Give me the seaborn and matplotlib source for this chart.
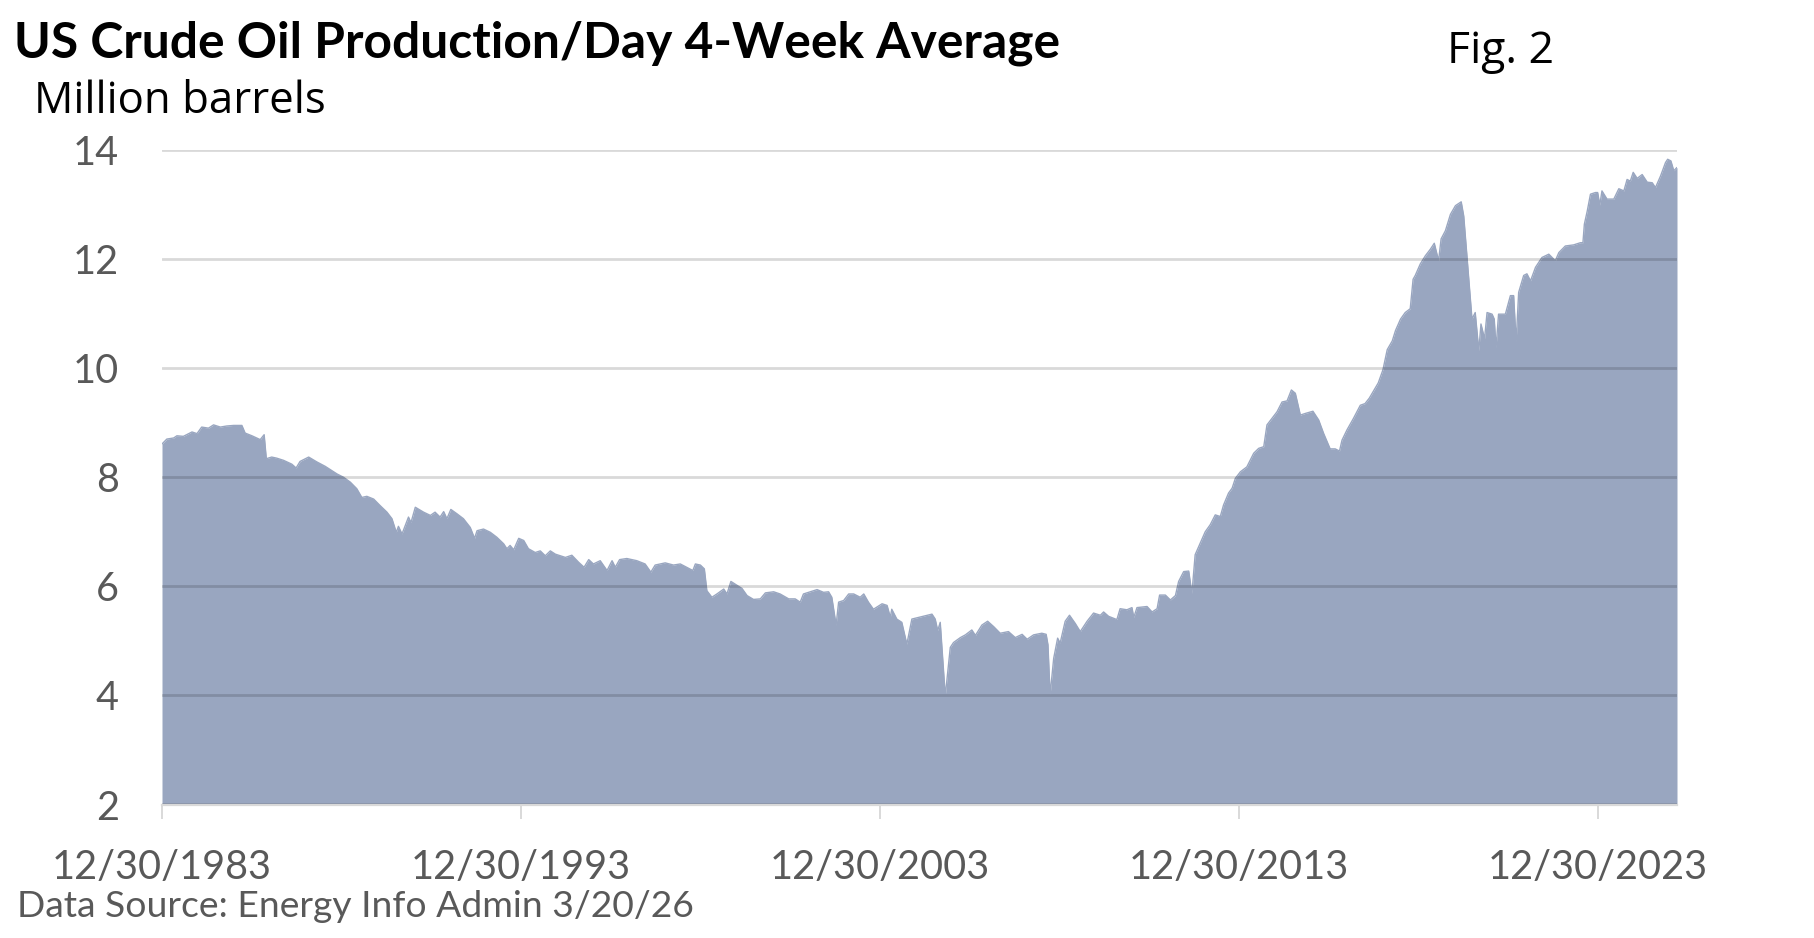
import matplotlib
matplotlib.use("Agg")
import matplotlib.pyplot as plt
import seaborn as sns
import pandas as pd

# ---------------- data ----------------
years = [
    1983.995, 1984.13, 1984.32, 1984.41, 1984.59, 1984.83, 1984.97, 1985.10, 1985.29, 1985.43,
    1985.62, 1985.80, 1985.99, 1986.22, 1986.31, 1986.50, 1986.73, 1986.84, 1986.90, 1987.05,
    1987.19, 1987.38, 1987.61, 1987.73, 1987.84, 1988.08, 1988.31, 1988.54, 1988.73, 1988.87,
    1989.05, 1989.24, 1989.42, 1989.56, 1989.70, 1989.89, 1990.07, 1990.26, 1990.40, 1990.52,
    1990.58, 1990.68, 1990.86, 1990.93, 1991.05, 1991.28, 1991.47, 1991.60, 1991.74, 1991.84,
    1991.93, 1992.04, 1992.21, 1992.39, 1992.58, 1992.70, 1992.77, 1992.95, 1993.14, 1993.32,
    1993.51, 1993.60, 1993.69, 1993.79, 1993.93, 1994.07, 1994.20, 1994.39, 1994.53, 1994.67,
    1994.81, 1994.95,
    1995.09, 1995.23, 1995.41, 1995.60, 1995.75, 1995.88, 1996.01, 1996.20, 1996.39, 1996.53,
    1996.62, 1996.74, 1996.94, 1997.22, 1997.45, 1997.61, 1997.73, 1998.01, 1998.24, 1998.43,
    1998.66, 1998.78, 1998.85, 1998.99, 1999.10, 1999.17, 1999.31, 1999.45, 1999.64, 1999.73,
    1999.84, 2000.01, 2000.15, 2000.29, 2000.47, 2000.66, 2000.80, 2001.03, 2001.21, 2001.45,
    2001.63, 2001.77, 2001.86, 2002.05, 2002.24, 2002.42, 2002.56, 2002.65, 2002.77, 2002.84,
    2002.98, 2003.12, 2003.26, 2003.44, 2003.54, 2003.67, 2003.81, 2004.05, 2004.19, 2004.28,
    2004.32, 2004.46, 2004.60, 2004.74, 2004.88, 2005.07, 2005.25, 2005.44, 2005.53, 2005.60,
    2005.67, 2005.72, 2005.81, 2005.95, 2006.04, 2006.23,
    2006.37, 2006.55, 2006.65, 2006.83, 2006.99, 2007.16, 2007.34, 2007.57, 2007.76, 2007.95,
    2008.09, 2008.27, 2008.50, 2008.62, 2008.67, 2008.73, 2008.83, 2008.94, 2009.01, 2009.15,
    2009.27, 2009.43, 2009.57, 2009.76, 2009.94, 2010.13, 2010.22, 2010.36, 2010.59, 2010.68,
    2010.87, 2011.01, 2011.06, 2011.15, 2011.43, 2011.57, 2011.71, 2011.78, 2011.94, 2012.08,
    2012.22, 2012.31, 2012.45, 2012.59, 2012.68, 2012.77, 2012.91, 2013.05, 2013.19, 2013.33,
    2013.47, 2013.56, 2013.70, 2013.80, 2013.89, 2014.03, 2014.21, 2014.40, 2014.54, 2014.68,
    2014.77, 2014.91, 2015.05, 2015.19, 2015.33, 2015.45, 2015.56, 2015.70, 2015.84, 2016.05,
    2016.21, 2016.35, 2016.53, 2016.67, 2016.79, 2016.86, 2017.00, 2017.18, 2017.37, 2017.50,
    2017.62, 2017.80, 2017.87, 2018.00, 2018.12, 2018.26,
    2018.35, 2018.49, 2018.62, 2018.76, 2018.84, 2018.90, 2019.04, 2019.18, 2019.32, 2019.43,
    2019.55, 2019.62, 2019.74, 2019.88, 2020.02, 2020.18, 2020.25, 2020.34, 2020.48, 2020.57,
    2020.67, 2020.73, 2020.83, 2020.90, 2021.04, 2021.10, 2021.15, 2021.22, 2021.41, 2021.55,
    2021.64, 2021.71, 2021.78, 2021.92, 2022.01, 2022.11, 2022.25, 2022.43, 2022.62, 2022.80,
    2022.90, 2023.08, 2023.31, 2023.50, 2023.57, 2023.61, 2023.69, 2023.78, 2023.92, 2023.98,
    2024.04, 2024.10, 2024.24, 2024.43, 2024.57, 2024.71, 2024.80, 2024.89, 2024.97, 2025.08,
    2025.22, 2025.36, 2025.50, 2025.59, 2025.73, 2025.87, 2025.93, 2026.02, 2026.10, 2026.19,
]

production = [
    8.61, 8.70, 8.72, 8.76, 8.75, 8.83, 8.80, 8.92, 8.90, 8.96,
    8.92, 8.94, 8.95, 8.95, 8.81, 8.76, 8.69, 8.78, 8.34, 8.37,
    8.35, 8.31, 8.24, 8.17, 8.29, 8.37, 8.28, 8.20, 8.12, 8.06,
    8.00, 7.91, 7.79, 7.63, 7.65, 7.60, 7.48, 7.36, 7.24, 6.99,
    7.10, 6.96, 7.27, 7.17, 7.45, 7.36, 7.30, 7.36, 7.27, 7.37,
    7.24, 7.41, 7.33, 7.24, 7.08, 6.88, 7.02, 7.05, 6.99, 6.90,
    6.78, 6.69, 6.75, 6.67, 6.88, 6.84, 6.69, 6.62, 6.65, 6.56,
    6.65, 6.59,
    6.56, 6.53, 6.57, 6.44, 6.35, 6.49, 6.41, 6.47, 6.29, 6.47,
    6.35, 6.49, 6.51, 6.47, 6.41, 6.26, 6.39, 6.43, 6.39, 6.41,
    6.33, 6.29, 6.41, 6.39, 6.32, 5.92, 5.80, 5.86, 5.95, 5.86,
    6.09, 6.02, 5.96, 5.83, 5.76, 5.77, 5.88, 5.90, 5.86, 5.77,
    5.77, 5.71, 5.86, 5.90, 5.94, 5.89, 5.90, 5.80, 5.29, 5.71,
    5.74, 5.86, 5.86, 5.80, 5.86, 5.71, 5.58, 5.68, 5.65, 5.43,
    5.58, 5.40, 5.34, 4.94, 5.40, 5.43, 5.46, 5.49, 5.40, 5.19,
    5.34, 4.85, 3.99, 4.88, 4.97, 5.06,
    5.11, 5.20, 5.10, 5.29, 5.36, 5.26, 5.14, 5.17, 5.06, 5.12,
    5.03, 5.11, 5.14, 5.12, 4.93, 4.01, 4.68, 5.05, 4.96, 5.36,
    5.47, 5.32, 5.17, 5.36, 5.51, 5.47, 5.53, 5.45, 5.39, 5.59,
    5.57, 5.61, 5.43, 5.61, 5.63, 5.53, 5.59, 5.84, 5.84, 5.75,
    5.83, 6.09, 6.27, 6.28, 5.87, 6.58, 6.79, 7.00, 7.13, 7.31,
    7.28, 7.49, 7.71, 7.80, 7.98, 8.10, 8.19, 8.44, 8.53, 8.56,
    8.96, 9.08, 9.20, 9.38, 9.40, 9.60, 9.54, 9.14, 9.17, 9.21,
    9.05, 8.80, 8.52, 8.52, 8.48, 8.68, 8.87, 9.08, 9.32, 9.35,
    9.45, 9.65, 9.73, 9.97, 10.34, 10.50,
    10.69, 10.90, 11.02, 11.09, 11.63, 11.70, 11.91, 12.06, 12.18, 12.29,
    11.97, 12.37, 12.52, 12.82, 12.98, 13.05, 12.79, 12.06, 10.90, 11.02,
    10.32, 10.81, 10.54, 11.02, 10.99, 10.90, 10.37, 10.99, 10.99, 11.33,
    11.33, 10.48, 11.39, 11.70, 11.73, 11.60, 11.85, 12.03, 12.09, 11.97,
    12.12, 12.24, 12.26, 12.30, 12.30, 12.64, 12.88, 13.19, 13.22, 13.22,
    12.99, 13.25, 13.10, 13.10, 13.29, 13.25, 13.46, 13.43, 13.59, 13.48,
    13.55, 13.41, 13.40, 13.31, 13.52, 13.77, 13.83, 13.80, 13.62, 13.68,
]

tick_positions = [1983.995, 1993.995, 2003.995, 2013.995, 2023.995]
tick_labels = ["12/30/1983", "12/30/1993", "12/30/2003", "12/30/2013", "12/30/2023"]
y_ticks = [2, 4, 6, 8, 10, 12, 14]

title_text = "US Crude Oil Production/Day 4-Week Average"
unit_text = "Million barrels"
fig_text = "Fig. 2"
source_text = "Data Source: Energy Info Admin 3/20/26"

# ---------------- style ----------------
FILL = "#99A6C0"
TICK_GREY = "#595959"
AXIS_GREY = "#D9D9D9"

sns.set_theme(style="white")
plt.rcParams['font.family'] = ['Lato', 'DejaVu Sans']
SUB_FONT = ['Open Sans', 'DejaVu Sans']

W, H = 1815, 938
fig = plt.figure(figsize=(W / 100, H / 100), dpi=100)
left, right, top, bottom = 162, 1677, 150, 804.5
ax = fig.add_axes([left / W, 1 - bottom / H, (right - left) / W, (bottom - top) / H])

df = pd.DataFrame({"year": years, "value": production})
ax.fill_between(df["year"], 2, df["value"], color=FILL, lw=0, zorder=1)
sns.lineplot(data=df, x="year", y="value", ax=ax, color=FILL, lw=1.0, zorder=1.1)

ax.set_xlim(years[0], years[-1])
ax.set_ylim(2, 14)
ax.set_yticks(y_ticks)
ax.set_yticklabels([str(v) for v in y_ticks])
ax.set_xticks(tick_positions)
ax.set_xticklabels(tick_labels)
ax.set_xlabel("")
ax.set_ylabel("")

ax.grid(axis="y", color="black", alpha=0.15, lw=2.0)
ax.grid(axis="x", visible=False)
ax.set_axisbelow(False)

for side in ["top", "right", "left"]:
    ax.spines[side].set_visible(False)
ax.spines["bottom"].set_color(AXIS_GREY)
ax.spines["bottom"].set_linewidth(1.6)
ax.spines["bottom"].set_zorder(3)

ax.tick_params(axis="x", which="major", direction="out", length=10, width=1.4,
               color=AXIS_GREY, labelsize=28.5, labelcolor=TICK_GREY, pad=22, bottom=True)
ax.tick_params(axis="y", length=0, labelsize=28.5, labelcolor=TICK_GREY, pad=31)

fig.text(14 / W, 1 - 58 / H, title_text, fontsize=35.8, fontweight="bold",
         color="black", ha="left", va="baseline")
fig.text(1447 / W, 1 - 63.5 / H, fig_text, fontsize=32, color="black",
         ha="left", va="baseline", family=SUB_FONT)
fig.text(34 / W, 1 - 112.7 / H, unit_text, fontsize=31.5, color="black",
         ha="left", va="baseline", family=SUB_FONT)
fig.text(17 / W, 1 - 917 / H, source_text, fontsize=26.8, color=TICK_GREY,
         ha="left", va="baseline")

fig.savefig("out.png", dpi=100, facecolor="white")
